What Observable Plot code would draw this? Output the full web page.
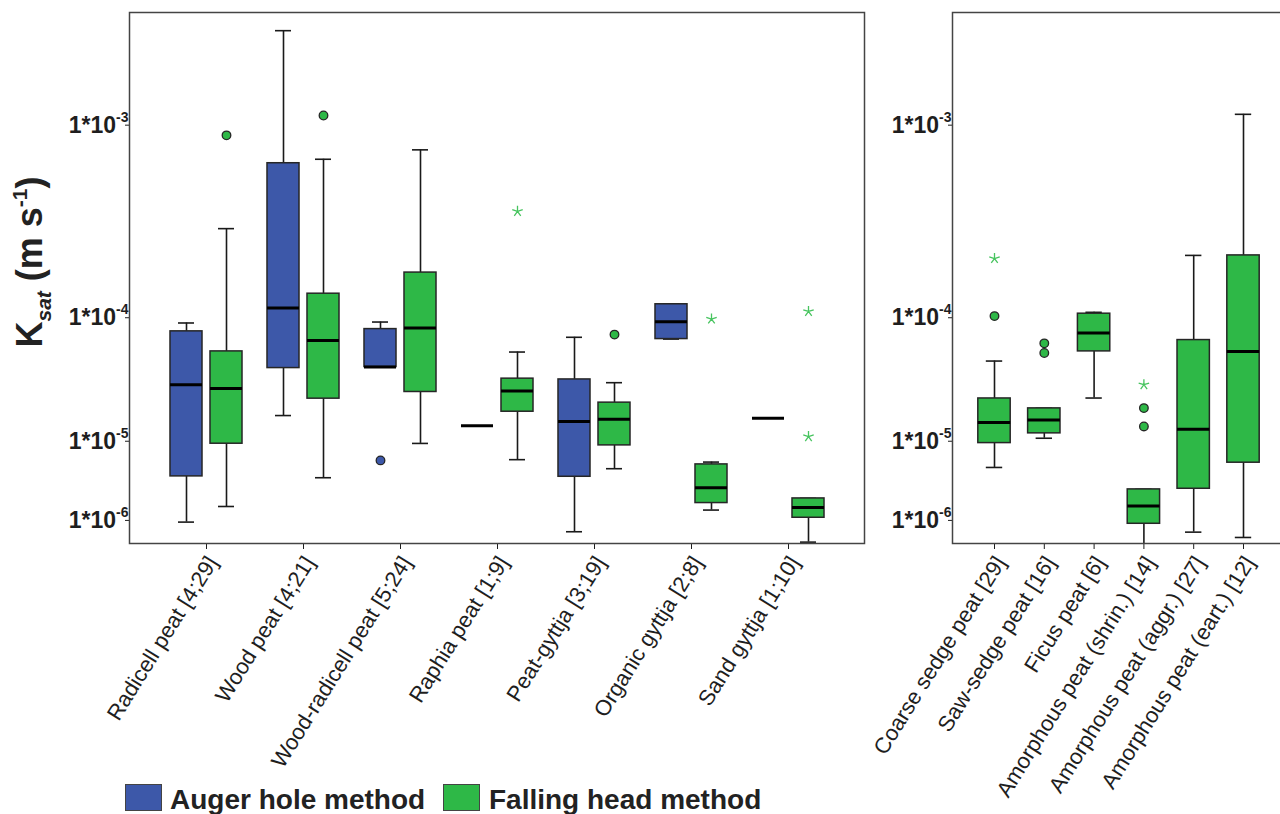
<!DOCTYPE html>
<html><head><meta charset="utf-8">
<script src="https://cdn.jsdelivr.net/npm/d3@7"></script>
<script src="https://cdn.jsdelivr.net/npm/@observablehq/plot@0.6"></script>
<style>
html,body{margin:0;padding:0;background:#fff;overflow:hidden;width:1280px;height:814px;font-family:"Liberation Sans",Arial,sans-serif;}
#left{position:absolute;left:0;top:0;width:866px;}
#right{position:absolute;left:866px;top:0;width:420px;}
#left svg,#right svg{max-width:none !important;}
.sw{position:absolute;box-sizing:border-box;width:37px;height:27px;top:784px;border:1.5px solid #444;}
.lt{position:absolute;top:786px;font-size:28px;line-height:28px;font-weight:bold;color:#222;white-space:nowrap;}
</style></head><body>
<div id="left"></div><div id="right"></div>
<div class="sw" style="left:125px;background:#3d58a9"></div><div class="lt" style="left:170px">Auger hole method</div>
<div class="sw" style="left:443px;background:#2eb847"></div><div class="lt" style="left:489px">Falling head method</div>
<script>
const leftCategories = ["Radicell peat [4;29]", "Wood peat [4;21]", "Wood-radicell peat [5;24]", "Raphia peat [1;9]", "Peat-gyttja [3;19]", "Organic gyttja [2;8]", "Sand gyttja [1;10]"];
const rightCategories = ["Coarse sedge peat [29]", "Saw-sedge peat [16]", "Ficus peat [6]", "Amorphous peat (shrin.) [14]", "Amorphous peat (aggr.) [27]", "Amorphous peat (eart.) [12]"];
const yTicks = [1e-3, 1e-4, 1e-5, 1e-6];
const methods = ["Auger hole method", "Falling head method"];
const methodColors = ["#3d58a9", "#2eb847"];

// [category, lower whisker, Q1, median, Q3, upper whisker]  (m s-1)
const augerStats = [
  ["Radicell peat [4;29]", 8.4e-7, 3.74e-6, 3.08e-5, 7.74e-5, 8.82e-5],
  ["Wood peat [4;21]", 1.66e-5, 4.18e-5, 1.105e-4, 6.62e-4, 2.26e-3],
  ["Wood-radicell peat [5;24]", 4.26e-5, 4.26e-5, 4.26e-5, 8.02e-5, 8.95e-5],
  ["Raphia peat [1;9]", null, null, 1.33e-5, null, null],
  ["Peat-gyttja [3;19]", 5.75e-7, 3.70e-6, 1.46e-5, 3.40e-5, 7.04e-5],
  ["Organic gyttja [2;8]", 6.84e-5, 6.84e-5, 9.0e-5, 1.168e-4, 1.168e-4],
  ["Sand gyttja [1;10]", null, null, 1.57e-5, null, null]
];
const fallingLeftStats = [
  ["Radicell peat [4;29]", 1.47e-6, 8.78e-6, 2.86e-5, 5.58e-5, 3.18e-4],
  ["Wood peat [4;21]", 3.60e-6, 2.35e-5, 6.67e-5, 1.36e-4, 6.90e-4],
  ["Wood-radicell peat [5;24]", 8.84e-6, 2.68e-5, 8.15e-5, 1.82e-4, 7.60e-4],
  ["Raphia peat [1;9]", 5.89e-6, 1.80e-5, 2.73e-5, 3.45e-5, 5.52e-5],
  ["Peat-gyttja [3;19]", 4.63e-6, 8.43e-6, 1.53e-5, 2.17e-5, 3.20e-5],
  ["Organic gyttja [2;8]", 1.30e-6, 1.65e-6, 2.69e-6, 5.20e-6, 5.53e-6],
  ["Sand gyttja [1;10]", 3.70e-7, 9.88e-7, 1.42e-6, 1.92e-6, 1.92e-6]
];
const fallingRightStats = [
  ["Coarse sedge peat [29]", 4.79e-6, 8.91e-6, 1.43e-5, 2.36e-5, 4.73e-5],
  ["Saw-sedge peat [16]", 1.00e-5, 1.12e-5, 1.51e-5, 1.93e-5, 1.93e-5],
  ["Ficus peat [6]", 2.38e-5, 5.58e-5, 7.53e-5, 1.016e-4, 1.037e-4],
  ["Amorphous peat (shrin.) [14]", 3.0e-7, 7.88e-7, 1.49e-6, 2.55e-6, 2.55e-6],
  ["Amorphous peat (aggr.) [27]", 5.66e-7, 2.60e-6, 1.23e-5, 6.73e-5, 2.28e-4],
  ["Amorphous peat (eart.) [12]", 4.53e-7, 5.44e-6, 5.58e-5, 2.28e-4, 1.078e-3]
];
// outliers (circles) and extremes (stars): [category, value]
const augerOutliers = [["Wood-radicell peat [5;24]", 5.78e-6]];
const augerExtremes = [];
const fallingLeftOutliers = [["Radicell peat [4;29]", 8.79e-4], ["Wood peat [4;21]", 1.066e-3], ["Peat-gyttja [3;19]", 7.35e-5]];
const fallingLeftExtremes = [["Raphia peat [1;9]", 3.90e-4], ["Organic gyttja [2;8]", 9.37e-5], ["Sand gyttja [1;10]", 1.05e-4], ["Sand gyttja [1;10]", 1.04e-5]];
const fallingRightOutliers = [["Coarse sedge peat [29]", 9.80e-5], ["Saw-sedge peat [16]", 6.38e-5], ["Saw-sedge peat [16]", 5.43e-5], ["Amorphous peat (shrin.) [14]", 1.94e-5], ["Amorphous peat (shrin.) [14]", 1.31e-5]];
const fallingRightExtremes = [["Coarse sedge peat [29]", 2.19e-4], ["Amorphous peat (shrin.) [14]", 3.08e-5]];

const star5 = {
  draw(context, size) {
    const r = Math.sqrt(size / Math.PI);
    for (let i = 0; i < 5; i++) {
      const a = -Math.PI / 2 + i * 2 * Math.PI / 5;
      context.moveTo(0, 0);
      context.lineTo(r * Math.cos(a), r * Math.sin(a));
    }
  }
};

function boxMarks(stats, outliers, extremes, color, dx) {
  const rows = stats.map(([cat, low, q1, med, q3, high]) => ({cat, low, q1, med, q3, high}));
  const full = rows.filter(d => d.q1 != null);
  const line = {stroke: "#1a1a1a", strokeWidth: 1.6, dx, clip: true};
  return [
    Plot.ruleX(full, {x: "cat", y1: "q3", y2: "high", ...line}),
    Plot.ruleX(full, {x: "cat", y1: "low", y2: "q1", ...line}),
    Plot.tickY(full, {x: "cat", y: "high", insetLeft: 8, insetRight: 8, ...line}),
    Plot.tickY(full, {x: "cat", y: "low", insetLeft: 8, insetRight: 8, ...line}),
    Plot.barY(full, {x: "cat", y1: "q1", y2: "q3", dx, fill: color, stroke: "#262626", strokeWidth: 1.5}),
    Plot.tickY(rows, {x: "cat", y: "med", dx, stroke: "#000", strokeWidth: 3}),
    Plot.dot(outliers, {x: d => d[0], y: d => d[1], dx, r: 4.3, fill: color, stroke: "#262626", strokeWidth: 1.3}),
    Plot.dot(extremes, {x: d => d[0], y: d => d[1], dx, r: 5.5, symbol: star5, fill: "none", stroke: "#47c45f", strokeWidth: 1.3})
  ];
}

const yScale = {type: "pow", exponent: 0.193, domain: [3.48e-7, 2.62e-3]};
const common = {height: 760, marginTop: 12, marginBottom: 217,
  style: {fontFamily: "Liberation Sans, Arial, sans-serif", background: "white", color: "#1e1e1e", overflow: "visible", maxWidth: "none"}};
function axes() {
  return [
    Plot.axisY({ticks: yTicks, tickFormat: d => "1*10|" + Math.round(Math.log10(d)), tickSize: 4, tickPadding: -3, fontSize: 23, fontWeight: "bold", label: null, dy: 3}),
    Plot.axisX({tickSize: 6, tickFormat: () => "", label: null}),
    Plot.axisX({tickSize: 0, tickRotate: -58, fontSize: 22, tickPadding: 10, label: null, dx: 6, dy: 5}),
    Plot.frame({stroke: "#444", strokeWidth: 1.5})
  ];
}

const leftPlot = Plot.plot({
  ...common, width: 866, marginLeft: 129, marginRight: 2,
  x: {type: "band", domain: leftCategories, range: [157.5, 836.5], paddingInner: 0.67, paddingOuter: 0.335, round: false},
  y: yScale,
  marks: [
    ...boxMarks(augerStats, augerOutliers, augerExtremes, methodColors[0], -20),
    ...boxMarks(fallingLeftStats, fallingLeftOutliers, fallingLeftExtremes, methodColors[1], 20),
    ...axes()
  ]
});
const rightPlot = Plot.plot({
  ...common, width: 420, marginLeft: 86, marginRight: 2,
  x: {type: "band", domain: rightCategories, range: [103.1, 401.9], paddingInner: 0.35, paddingOuter: 0.175, round: false},
  y: yScale,
  marks: [
    ...boxMarks(fallingRightStats, fallingRightOutliers, fallingRightExtremes, methodColors[1], 0),
    ...axes()
  ]
});

const ns = "http://www.w3.org/2000/svg";
for (const svg of [leftPlot, rightPlot]) {
  svg.querySelectorAll("text").forEach(t => {
    if (!t.textContent.includes("|")) return;
    const [b, e] = t.textContent.split("|");
    t.textContent = b;
    const ts = document.createElementNS(ns, "tspan");
    ts.setAttribute("dy", "-11");
    ts.setAttribute("font-size", "14");
    ts.textContent = e;
    t.appendChild(ts);
  });
}
const title = d3.select(leftPlot).append("text")
  .attr("transform", "translate(42,262) rotate(-90)")
  .attr("text-anchor", "middle").attr("font-size", 36).attr("font-weight", "bold").attr("fill", "#222");
title.append("tspan").text("K");
title.append("tspan").attr("font-size", 21).attr("font-style", "italic").attr("dy", 9).text("sat");
title.append("tspan").attr("dy", -9).text(" (m s");
title.append("tspan").attr("font-size", 21).attr("dy", -15).text("-1");
title.append("tspan").attr("dy", 15).text(")");

document.getElementById("left").appendChild(leftPlot);
document.getElementById("right").appendChild(rightPlot);
</script>
</body></html>
